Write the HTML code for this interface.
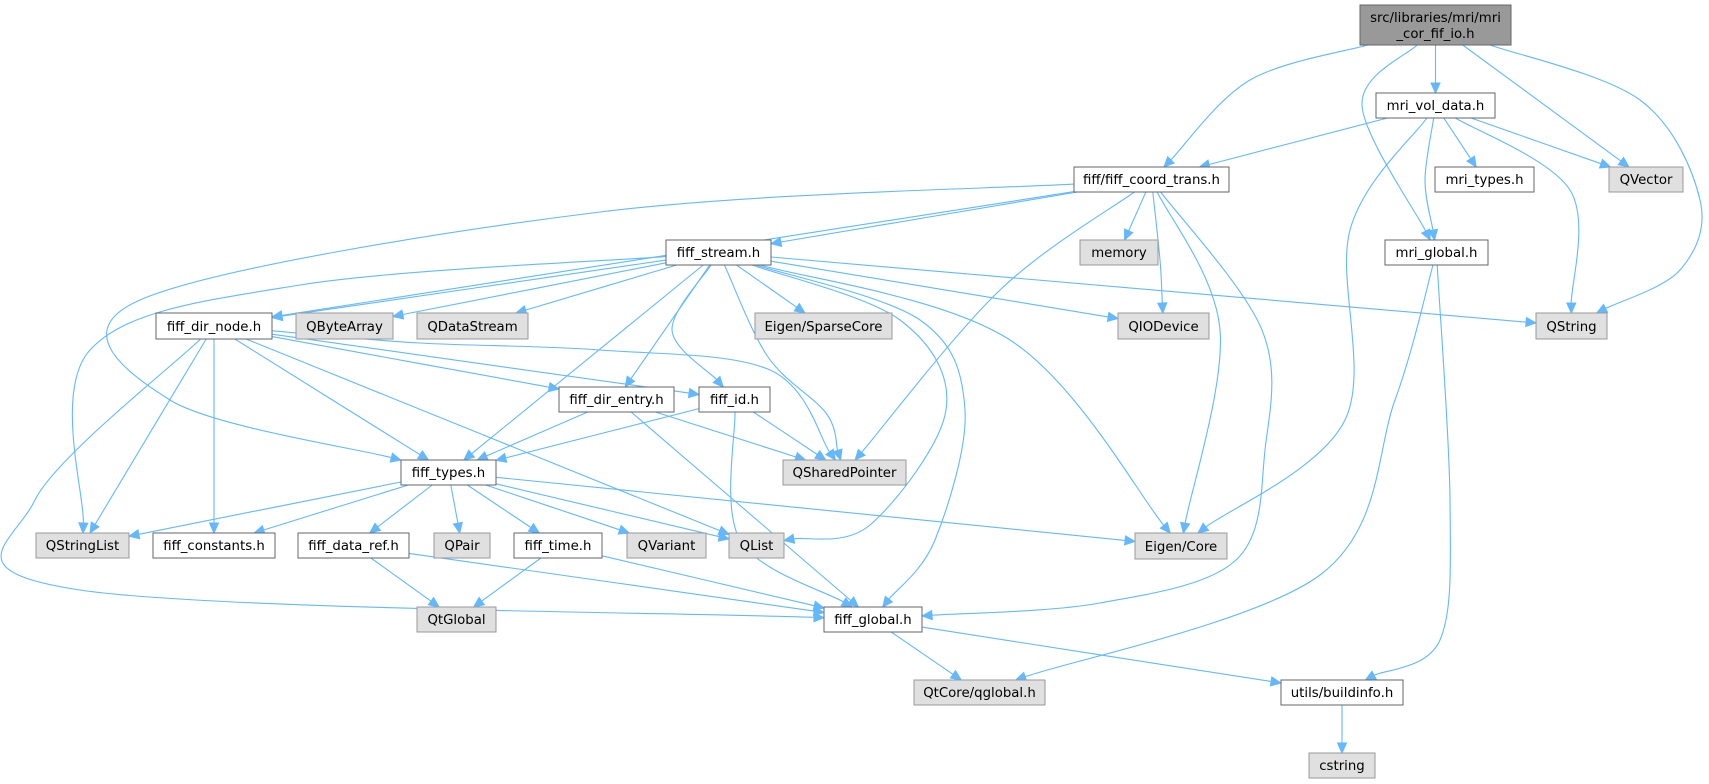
<!DOCTYPE html>
<html><head><meta charset="utf-8"><style>
html,body{margin:0;padding:0;background:#fff;}
svg{display:block;}
text{font-family:"DejaVu Sans","Liberation Sans",sans-serif;font-size:13.3px;fill:#000;}
</style></head><body>
<svg id="g" width="1709" height="784" viewBox="0 0 1709 784" xmlns="http://www.w3.org/2000/svg">
<g id="edges"></g>
<g id="nodes">
<rect x="1360" y="5" width="151" height="40" fill="#999999" stroke="#666666"/>
<text x="1435.5" y="22" text-anchor="middle">src/libraries/mri/mri</text>
<text x="1435.5" y="38" text-anchor="middle">_cor_fif_io.h</text>
<rect x="1376" y="93" width="119" height="25" fill="#fff" stroke="#666666"/><text x="1435.5" y="110" text-anchor="middle">mri_vol_data.h</text>
<rect x="1074" y="167" width="155" height="25" fill="#fff" stroke="#666666"/><text x="1151.5" y="184" text-anchor="middle">fiff/fiff_coord_trans.h</text>
<rect x="1435" y="167" width="99" height="25" fill="#fff" stroke="#666666"/><text x="1484.5" y="184" text-anchor="middle">mri_types.h</text>
<rect x="1609" y="167" width="74" height="25" fill="#e0e0e0" stroke="#999999"/><text x="1646" y="184" text-anchor="middle">QVector</text>
<rect x="1080" y="240" width="78" height="25" fill="#e0e0e0" stroke="#999999"/><text x="1119" y="257" text-anchor="middle">memory</text>
<rect x="1385" y="240" width="103" height="25" fill="#fff" stroke="#666666"/><text x="1436.5" y="257" text-anchor="middle">mri_global.h</text>
<rect x="666" y="240" width="105" height="25" fill="#fff" stroke="#666666"/><text x="718.5" y="257" text-anchor="middle">fiff_stream.h</text>
<rect x="156" y="313" width="116" height="26" fill="#fff" stroke="#666666"/><text x="214" y="331" text-anchor="middle">fiff_dir_node.h</text>
<rect x="296" y="313" width="97" height="26" fill="#e0e0e0" stroke="#999999"/><text x="344.5" y="331" text-anchor="middle">QByteArray</text>
<rect x="417" y="313" width="111" height="26" fill="#e0e0e0" stroke="#999999"/><text x="472.5" y="331" text-anchor="middle">QDataStream</text>
<rect x="755" y="313" width="137" height="26" fill="#e0e0e0" stroke="#999999"/><text x="823.5" y="331" text-anchor="middle">Eigen/SparseCore</text>
<rect x="1118" y="313" width="91" height="26" fill="#e0e0e0" stroke="#999999"/><text x="1163.5" y="331" text-anchor="middle">QIODevice</text>
<rect x="1536" y="313" width="71" height="26" fill="#e0e0e0" stroke="#999999"/><text x="1571.5" y="331" text-anchor="middle">QString</text>
<rect x="559" y="387" width="115" height="25" fill="#fff" stroke="#666666"/><text x="616.5" y="404" text-anchor="middle">fiff_dir_entry.h</text>
<rect x="699" y="387" width="71" height="25" fill="#fff" stroke="#666666"/><text x="734.5" y="404" text-anchor="middle">fiff_id.h</text>
<rect x="783" y="460" width="123" height="25" fill="#e0e0e0" stroke="#999999"/><text x="844.5" y="477" text-anchor="middle">QSharedPointer</text>
<rect x="401" y="460" width="95" height="25" fill="#fff" stroke="#666666"/><text x="448.5" y="477" text-anchor="middle">fiff_types.h</text>
<rect x="36" y="533" width="93" height="25" fill="#e0e0e0" stroke="#999999"/><text x="82.5" y="550" text-anchor="middle">QStringList</text>
<rect x="153" y="533" width="122" height="25" fill="#fff" stroke="#666666"/><text x="214" y="550" text-anchor="middle">fiff_constants.h</text>
<rect x="298" y="533" width="111" height="25" fill="#fff" stroke="#666666"/><text x="353.5" y="550" text-anchor="middle">fiff_data_ref.h</text>
<rect x="434" y="533" width="56" height="25" fill="#e0e0e0" stroke="#999999"/><text x="462" y="550" text-anchor="middle">QPair</text>
<rect x="514" y="533" width="88" height="25" fill="#fff" stroke="#666666"/><text x="558" y="550" text-anchor="middle">fiff_time.h</text>
<rect x="627" y="533" width="79" height="25" fill="#e0e0e0" stroke="#999999"/><text x="666.5" y="550" text-anchor="middle">QVariant</text>
<rect x="729" y="533" width="55" height="25" fill="#e0e0e0" stroke="#999999"/><text x="756.5" y="550" text-anchor="middle">QList</text>
<rect x="1135" y="533" width="92" height="26" fill="#e0e0e0" stroke="#999999"/><text x="1181" y="551" text-anchor="middle">Eigen/Core</text>
<rect x="824" y="607" width="98" height="25" fill="#fff" stroke="#666666"/><text x="873" y="624" text-anchor="middle">fiff_global.h</text>
<rect x="417" y="607" width="79" height="25" fill="#e0e0e0" stroke="#999999"/><text x="456.5" y="624" text-anchor="middle">QtGlobal</text>
<rect x="914" y="680" width="131" height="25" fill="#e0e0e0" stroke="#999999"/><text x="979.5" y="697" text-anchor="middle">QtCore/qglobal.h</text>
<rect x="1281" y="680" width="122" height="25" fill="#fff" stroke="#666666"/><text x="1342" y="697" text-anchor="middle">utils/buildinfo.h</text>
<rect x="1309" y="753" width="66" height="25" fill="#e0e0e0" stroke="#999999"/><text x="1342" y="770" text-anchor="middle">cstring</text>
</g>
</svg>
<script>
var N={root:[1360,5,1511,45],mvd:[1376,93,1495,118],fct:[1074,167,1229,192],mtypes:[1435,167,1534,192],QVector:[1609,167,1683,192],memory:[1080,240,1158,265],mglobal:[1385,240,1488,265],fstream:[666,240,771,265],fdn:[156,313,272,339],QByteArray:[296,313,393,339],QDataStream:[417,313,528,339],Sparse:[755,313,892,339],QIODevice:[1118,313,1209,339],QString:[1536,313,1607,339],fde:[559,387,674,412],fid:[699,387,770,412],QSP:[783,460,906,485],ftypes:[401,460,496,485],QStringList:[36,533,129,558],fconst:[153,533,275,558],fdref:[298,533,409,558],QPair:[434,533,490,558],ftime:[514,533,602,558],QVariant:[627,533,706,558],QList:[729,533,784,558],ECore:[1135,533,1227,559],fglobal:[824,607,922,632],QtGlobal:[417,607,496,632],qglobal:[914,680,1045,705],buildinfo:[1281,680,1403,705],cstring:[1309,753,1375,778]};
function c(b){return[(b[0]+b[2])/2,(b[1]+b[3])/2];}
function hit(b,p,q){
 var dx=q[0]-p[0],dy=q[1]-p[1],t=1e9;
 if(dx>0)t=Math.min(t,(b[2]-p[0])/dx);if(dx<0)t=Math.min(t,(b[0]-p[0])/dx);
 if(dy>0)t=Math.min(t,(b[3]-p[1])/dy);if(dy<0)t=Math.min(t,(b[1]-p[1])/dy);
 return[p[0]+dx*t,p[1]+dy*t];}
var E=[
['root','fct',[[1250,80]]],['root','mglobal',[[1362,105]]],['root','mvd'],['root','QVector'],['root','QString',[[1640,100],[1700,200],[1680,270]]],
['mvd','fct'],['mvd','ECore',[[1350,230],[1345,420]]],['mvd','mglobal',[[1425,180]]],['mvd','mtypes'],['mvd','QVector'],['mvd','QString',[[1570,190]]],
['fct','fstream'],['fct','fdn'],['fct','ftypes',[[600,212],[140,300],[170,400]]],['fct','memory'],['fct','QIODevice',[[1160,260]]],['fct','QSP',[[1000,290]]],['fct','ECore',[[1220,330]]],['fct','fglobal',[[1262,330],[1265,450],[1236,560],[1100,603]]],
['mglobal','qglobal',[[1395,400],[1320,575]]],['mglobal','buildinfo',[[1450,500],[1440,640]]],
['fstream','fdn'],['fstream','QByteArray'],['fstream','QDataStream'],['fstream','Sparse'],['fstream','QIODevice'],['fstream','QString'],['fstream','QStringList',[[300,285],[90,350]]],['fstream','ftypes'],['fstream','fde'],['fstream','fid',[[672,330]]],['fstream','QSP',[[768,357],[826,413]]],['fstream','QList',[[900,320],[946,410],[870,525]]],['fstream','fglobal',[[920,320],[965,410],[935,540]]],['fstream','ECore',[[1010,340]]],
['fdn','QStringList'],['fdn','fconst'],['fdn','fde'],['fdn','fid'],['fdn','QSP',[[420,343],[600,350],[770,370]]],['fdn','QList'],['fdn','ftypes'],['fdn','fglobal',[[35,500],[80,590]]],
['fde','ftypes'],['fde','QSP'],['fde','fglobal'],
['fid','ftypes'],['fid','QSP'],['fid','fglobal',[[740,540]]],
['ftypes','QStringList'],['ftypes','fconst'],['ftypes','fdref'],['ftypes','QPair'],['ftypes','ftime'],['ftypes','QVariant'],['ftypes','QList'],['ftypes','ECore'],
['fdref','QtGlobal'],['fdref','fglobal'],['ftime','QtGlobal'],['ftime','fglobal'],
['fglobal','qglobal'],['fglobal','buildinfo'],['buildinfo','cstring']];
var out='';
E.forEach(function(e){
 var a=N[e[0]],b=N[e[1]],v=e[2]||[],ca=c(a),cb=c(b);
 var s=hit(a,ca,v.length?v[0]:cb);
 var last=v.length?v[v.length-1]:s;
 var t=hit(b,cb,last);
 var dx=t[0]-last[0],dy=t[1]-last[1],L=Math.hypot(dx,dy);dx/=L;dy/=L;
 var al=10,aw=4.5,te=[t[0]-dx*al,t[1]-dy*al];
 var P=[s].concat(v).concat([te]),d='M'+P[0][0].toFixed(1)+','+P[0][1].toFixed(1);
 for(var i=0;i<P.length-1;i++){
  var p0=P[i-1]||P[i],p1=P[i],p2=P[i+1],p3=P[i+2]||P[i+1];
  var c1=[p1[0]+(p2[0]-p0[0])/6,p1[1]+(p2[1]-p0[1])/6],c2=[p2[0]-(p3[0]-p1[0])/6,p2[1]-(p3[1]-p1[1])/6];
  d+=' C'+c1[0].toFixed(1)+','+c1[1].toFixed(1)+' '+c2[0].toFixed(1)+','+c2[1].toFixed(1)+' '+p2[0].toFixed(1)+','+p2[1].toFixed(1);
 }
 out+='<path d="'+d+'" fill="none" stroke="#63b8ff" stroke-width="1.1"/>';
 out+='<polygon points="'+t[0]+','+t[1]+' '+(te[0]-dy*aw)+','+(te[1]+dx*aw)+' '+(te[0]+dy*aw)+','+(te[1]-dx*aw)+'" fill="#63b8ff" stroke="#63b8ff"/>';
});
document.getElementById('edges').innerHTML=out;
</script>
</body></html>
